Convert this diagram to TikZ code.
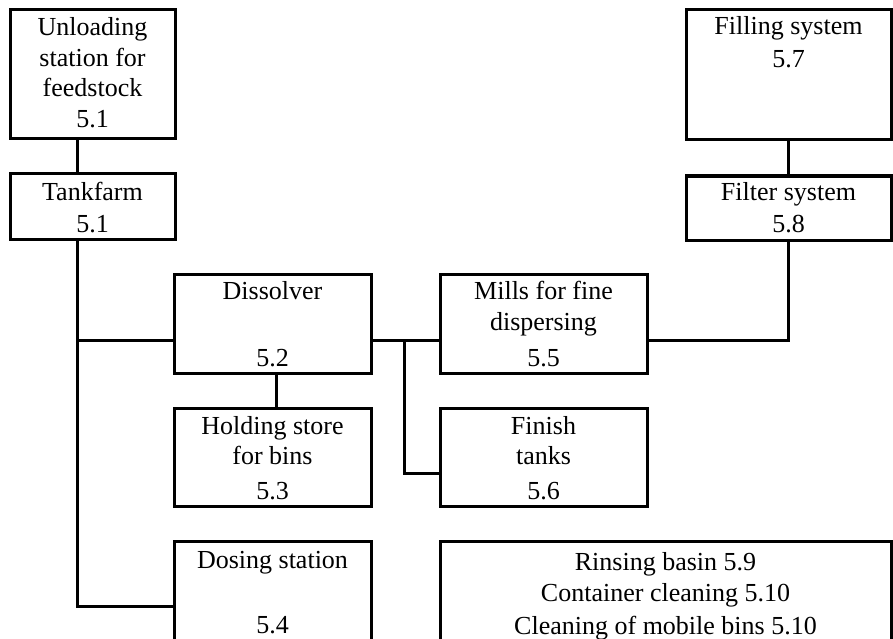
\documentclass[tikz,border=0pt]{standalone}
\usepackage{fontspec}
\setmainfont{Liberation Serif}
\begin{document}
\begin{tikzpicture}[x=1pt,y=-1pt,
  box/.style={draw, line width=3pt, rectangle, inner sep=0pt, outer sep=0pt},
  conn/.style={draw, line width=3pt, line join=miter},
  lbl/.style={anchor=base, inner sep=0pt, font=\fontsize{26}{31}\selectfont}]
\useasboundingbox (0,0) rectangle (893,639);
\begin{scope}
\clip (0,0) rectangle (893,639);
% process units
\node[box, minimum width=165pt, minimum height=129pt] (unl)   at (92.5,74.5) {};
\node[box, minimum width=165pt, minimum height=65pt]  (tank)  at (92.5,206.5) {};
\node[box, minimum width=205pt, minimum height=130pt] (fill)  at (788.5,75) {};
\node[box, minimum width=205pt, minimum height=64pt]  (filt)  at (788.5,208) {};
\node[box, minimum width=197pt, minimum height=99pt]  (diss)  at (272.5,323.5) {};
\node[box, minimum width=207pt, minimum height=99pt]  (mills) at (543.5,323.5) {};
\node[box, minimum width=197pt, minimum height=98pt]  (hold)  at (272.5,457) {};
\node[box, minimum width=207pt, minimum height=98pt]  (fin)   at (543.5,457) {};
\node[box, minimum width=197pt, minimum height=119pt] (dos)   at (272.5,600.5) {};
\node[box, minimum width=451pt, minimum height=119pt] (rins)  at (665.5,600.5) {};

% routing columns
\coordinate (sx) at (77,0);
\coordinate (hx) at (276,0);
\coordinate (tx) at (404,0);

% connectors
\draw[conn] (unl.south -| sx) -- (tank.north -| sx);
\draw[conn] (tank.south -| sx) |- ([yshift=-5.5pt]dos.west);
\draw[conn] ([yshift=-16.5pt]diss.west) -- ([yshift=-16.5pt]diss.west -| sx);
\draw[conn] (diss.south -| hx) -- (hold.north -| hx);
\draw[conn] ([yshift=-16.5pt]diss.east) -- ([yshift=-16.5pt]mills.west);
\draw[conn] ([yshift=-16.5pt]diss.east -| tx) |- ([yshift=-16pt]fin.west);
\draw[conn] ([yshift=-16.5pt]mills.east) -| (filt.south);
\draw[conn] (filt.north) -- (fill.south);

% labels
\node[lbl] (unl1) at (92.5,36) {Unloading};
\node[lbl] (unl2) at (92.5,67) {station for};
\node[lbl] (unl3) at (92.5,97) {feedstock};
\node[lbl] (unl4) at (92.5,128) {5.1};
\node[lbl] (tank1) at (92.5,200) {Tankfarm};
\node[lbl] (tank2) at (92.5,232) {5.1};
\node[lbl] (fill1) at (788.5,35) {Filling system};
\node[lbl] (fill2) at (788.5,68) {5.7};
\node[lbl] (filt1) at (788.5,200) {Filter system};
\node[lbl] (filt2) at (788.5,232) {5.8};
\node[lbl] (diss1) at (272.5,299) {Dissolver};
\node[lbl] (diss2) at (272.5,366) {5.2};
\node[lbl] (mills1) at (543.5,299) {Mills for fine};
\node[lbl] (mills2) at (543.5,330) {dispersing};
\node[lbl] (mills3) at (543.5,366) {5.5};
\node[lbl] (hold1) at (272.5,434) {Holding store};
\node[lbl] (hold2) at (272.5,464) {for bins};
\node[lbl] (hold3) at (272.5,499) {5.3};
\node[lbl] (fin1) at (543.5,434) {Finish};
\node[lbl] (fin2) at (543.5,464) {tanks};
\node[lbl] (fin3) at (543.5,499) {5.6};
\node[lbl] (dos1) at (272.5,568) {Dosing station};
\node[lbl] (dos2) at (272.5,633) {5.4};
\node[lbl] (rins1) at (665.5,570) {Rinsing basin 5.9};
\node[lbl] (rins2) at (665.5,601) {Container cleaning 5.10};
\node[lbl] (rins3) at (665.5,634) {Cleaning of mobile bins 5.10};
\end{scope}
\end{tikzpicture}
\end{document}
